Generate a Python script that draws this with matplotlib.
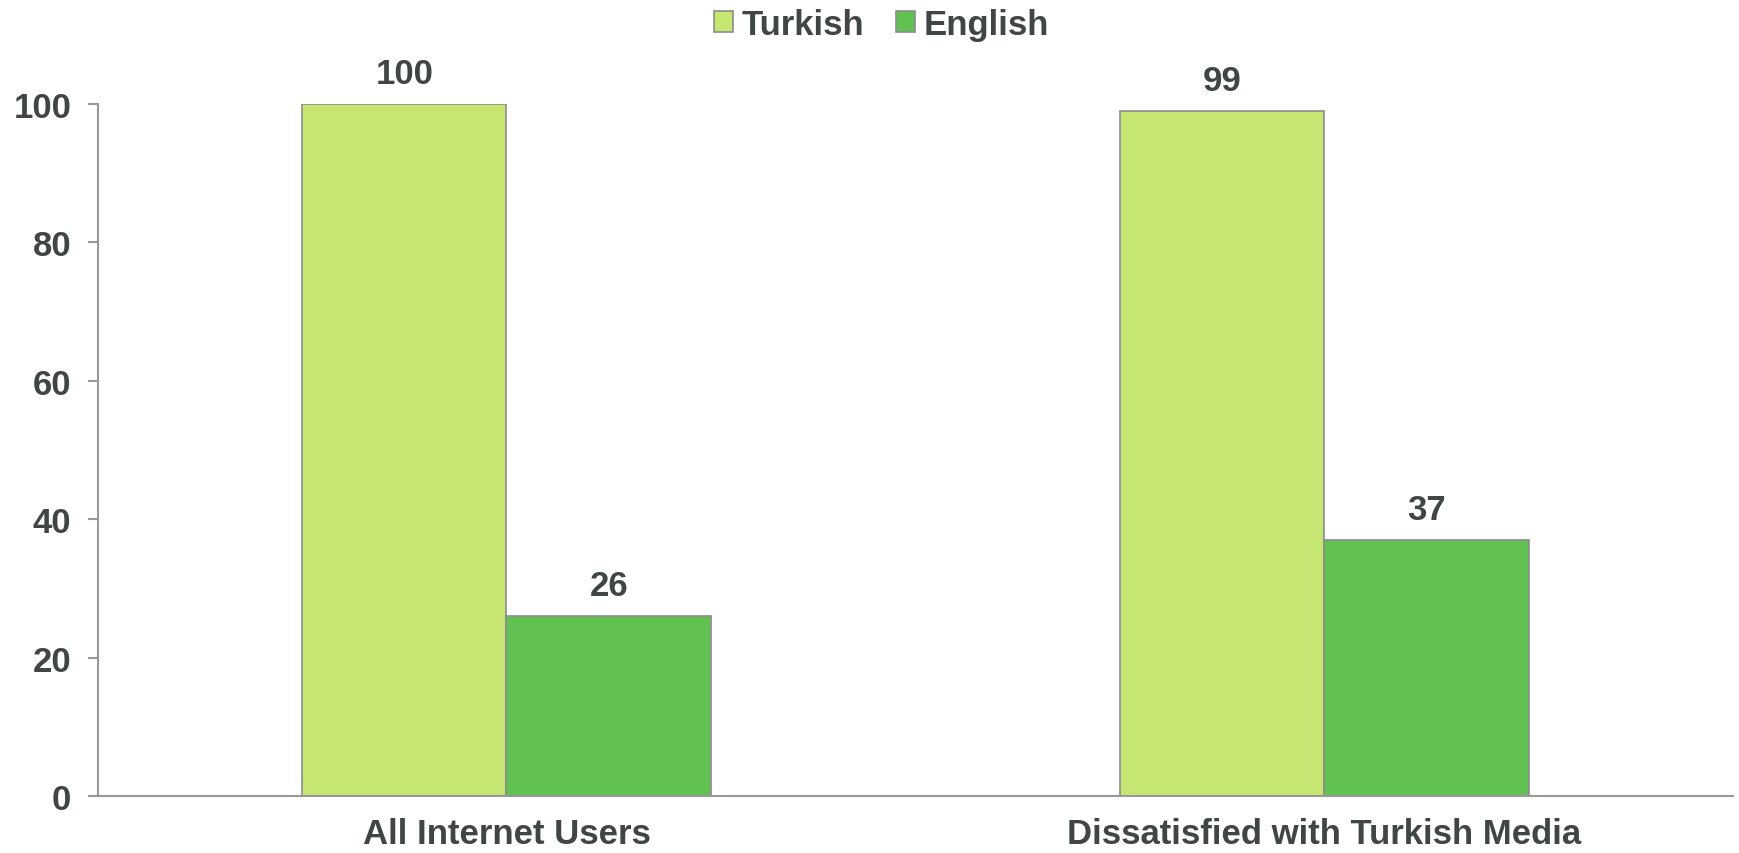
import numpy as np
import matplotlib
matplotlib.use("Agg")
import matplotlib.pyplot as plt

# chart data
categories = ["All Internet Users", "Dissatisfied with Turkish Media"]
turkish = [100, 99]
english = [26, 37]
series_names = ["Turkish", "English"]

c_turk = "#C5E670"
c_eng = "#62C251"
c_edge = "#8C8C8C"
c_text = "#404545"

plt.rcParams['font.family'] = ['Liberation Sans', 'DejaVu Sans']
plt.rcParams['font.weight'] = 'bold'

fig = plt.figure(figsize=(17.39, 8.54), dpi=100)
ax = fig.add_axes([0.0561, 0.0667, 0.9405, 0.8103])

x = np.arange(len(categories))
w = 0.25
b1 = ax.bar(x - w/2, turkish, w, color=c_turk, edgecolor=c_edge, linewidth=1.2,
            label=series_names[0])
b2 = ax.bar(x + w/2, english, w, color=c_eng, edgecolor=c_edge, linewidth=1.2,
            label=series_names[1])

# value labels above bars
for bars in (b1, b2):
    for r in bars:
        ax.annotate(f"{r.get_height():.0f}",
                    (r.get_x() + r.get_width()/2, r.get_height()),
                    xytext=(0, 10), textcoords="offset points",
                    ha="center", va="bottom", fontsize=25, fontweight="bold",
                    color=c_text, annotation_clip=False)

ax.set_xlim(-0.5, 1.5)
ax.set_ylim(0, 100)
ax.set_yticks([0, 20, 40, 60, 80, 100])
ax.set_xticks(x)
ax.set_xticklabels(categories)

for s in ["top", "right"]:
    ax.spines[s].set_visible(False)
for s in ["left", "bottom"]:
    ax.spines[s].set_color("#999999")
    ax.spines[s].set_linewidth(1.5)

ax.tick_params(axis="y", length=7, width=1.5, color="#999999", pad=12,
               labelsize=25, labelcolor=c_text)
ax.tick_params(axis="x", length=0, pad=15, labelsize=25, labelcolor=c_text)

leg = fig.legend(loc="upper center", bbox_to_anchor=(0.507, 1.026), ncol=2,
                 frameon=False, fontsize=25, handlelength=0.55, handleheight=0.55,
                 handletextpad=0.25, columnspacing=0.9)
for t in leg.get_texts():
    t.set_color(c_text)

fig.savefig("out.png", dpi=100)
